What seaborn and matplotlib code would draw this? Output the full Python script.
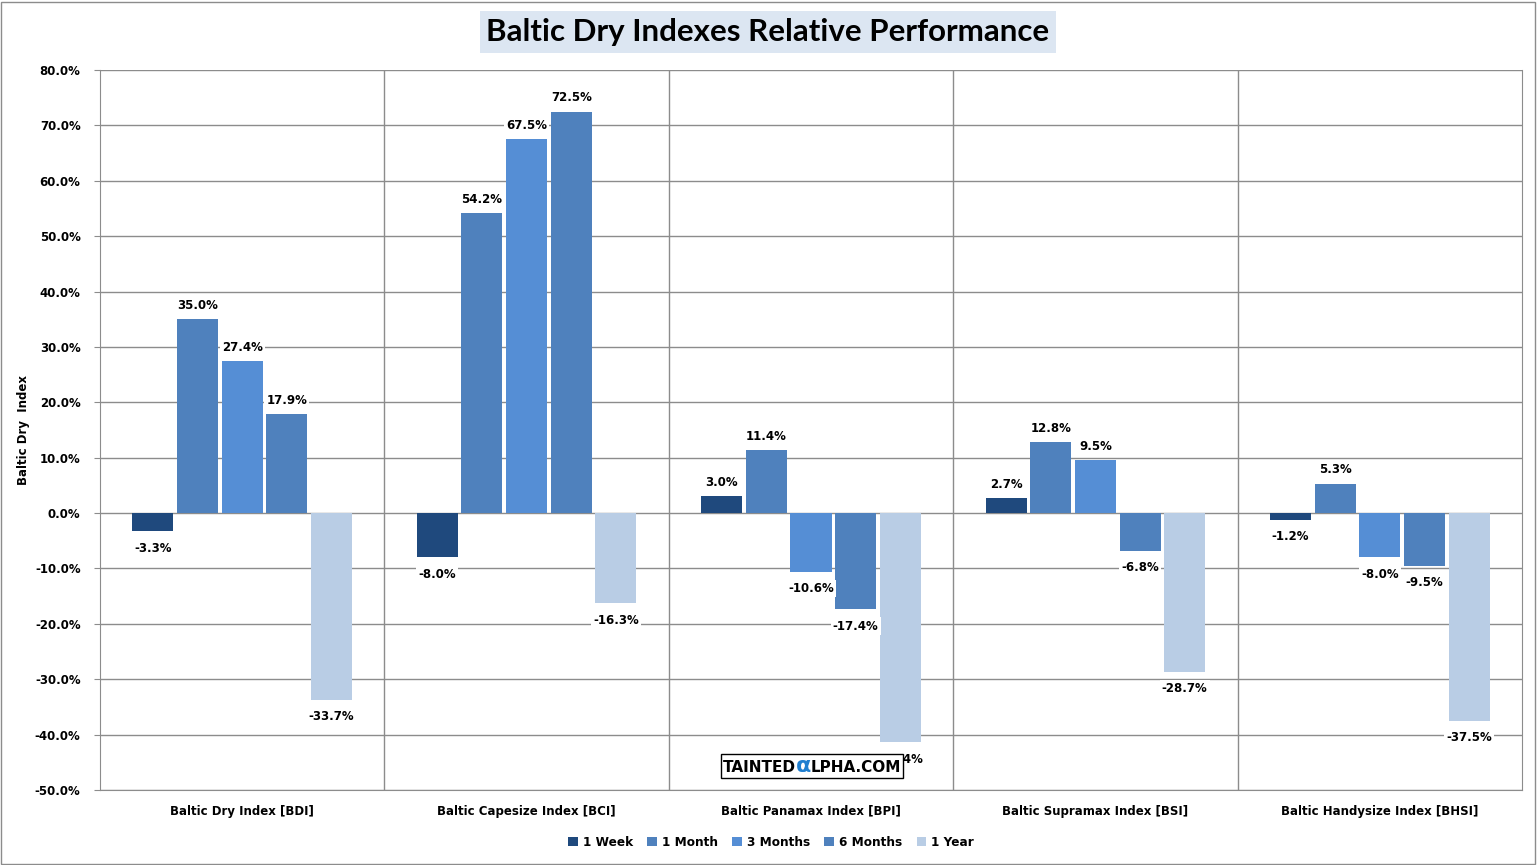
import pandas as pd
import matplotlib.pyplot as plt
import matplotlib.patches as mpatches
import seaborn as sns
from matplotlib.ticker import FuncFormatter, MultipleLocator, FixedLocator
from matplotlib.offsetbox import TextArea, HPacker, AnchoredOffsetbox

# ---------------------------------------------------------
# DATA (% change)
# ---------------------------------------------------------
indexes = ['Baltic Dry Index [BDI]', 'Baltic Capesize Index [BCI]', 'Baltic Panamax Index [BPI]',
           'Baltic Supramax Index [BSI]', 'Baltic Handysize Index [BHSI]']
periods = ['1 Week', '1 Month', '3 Months', '6 Months', '1 Year']

week_1 = [-3.3, -8.0, 3.0, 2.7, -1.2]
month_1 = [35.0, 54.2, 11.4, 12.8, 5.3]
months_3 = [27.4, 67.5, -10.6, 9.5, -8.0]
months_6 = [17.9, 72.5, -17.4, -6.8, -9.5]
year_1 = [-33.7, -16.3, -41.4, -28.7, -37.5]

colors = ['#1F497D', '#4F81BD', '#558ED5', '#4F81BD', '#B9CDE5']

series = [week_1, month_1, months_3, months_6, year_1]
rows = []
for p, vals in zip(periods, series):
    for idx, v in zip(indexes, vals):
        rows.append({'index': idx, 'period': p, 'value': v})
df = pd.DataFrame(rows)

# ---------------------------------------------------------
# PLOT
# ---------------------------------------------------------
sns.set_style("white")
plt.rcParams['font.family'] = ['DejaVu Sans']
plt.rcParams['text.color'] = 'black'
plt.rcParams['xtick.color'] = 'black'
plt.rcParams['ytick.color'] = 'black'
plt.rcParams['axes.labelcolor'] = 'black'

fig = plt.figure(figsize=(15.37, 8.65), dpi=100)
ax = fig.add_axes([100 / 1537, 1 - 790 / 865, 1422 / 1537, 720 / 865])

sns.barplot(data=df, x='index', y='value', hue='period', hue_order=periods,
            palette=colors, width=0.785, gap=0.08, saturation=1, linewidth=0,
            ax=ax, legend=True)

ax.set_ylim(-50, 80)
ax.set_xlim(-0.5, len(indexes) - 0.5)
ax.yaxis.set_major_locator(MultipleLocator(10))
ax.yaxis.set_major_formatter(FuncFormatter(lambda v, p: f'{v:.1f}%'))
ax.xaxis.set_minor_locator(FixedLocator([i + 0.5 for i in range(len(indexes) - 1)]))

ax.grid(axis='y', which='major', color='#8c8c8c', linewidth=1)
ax.grid(axis='x', which='minor', color='#8c8c8c', linewidth=1)
ax.set_axisbelow(True)
ax.spines['top'].set_visible(False)
for s in ['left', 'right', 'bottom']:
    ax.spines[s].set_visible(True)
    ax.spines[s].set_color('#8c8c8c')

ax.tick_params(axis='y', which='major', left=True, length=4, color='#8c8c8c',
               labelsize=8.5, pad=10, labelcolor='black')
ax.tick_params(axis='x', which='both', bottom=False, labelsize=8.5, pad=7, labelcolor='black')
for lab in ax.get_yticklabels() + ax.get_xticklabels():
    lab.set_fontweight('bold')

ax.set_xlabel('')
ax.set_ylabel('Baltic Dry  Index', fontsize=8.5, fontweight='bold', labelpad=0)
ax.yaxis.set_label_coords(-70 / 1422, 0.5)

# value labels with white boxes (a bit more room below negative bars)
for cont, vals in zip(ax.containers, series):
    for bar, v in zip(cont, vals):
        t = ax.annotate(f'{v:.1f}%', (bar.get_x() + bar.get_width() / 2, v),
                        xytext=(0, 10 if v >= 0 else -12), textcoords='offset points',
                        ha='center', va='center', fontsize=8.5, fontweight='bold', color='black')
        t.set_bbox(dict(facecolor='white', edgecolor='none', pad=1.5))

# legend at the bottom, centred on the figure
fig.legend(*ax.get_legend_handles_labels(), loc='center',
           bbox_to_anchor=(771 / 1537, 1 - 842 / 865), ncol=5, frameon=False,
           handlelength=0.8, handleheight=0.8, handletextpad=0.4, columnspacing=1.2,
           prop={'weight': 'bold', 'size': 8.7})
ax.get_legend().remove()

# title with light blue box
fig.text(768 / 1537, 1 - 32 / 865, 'Baltic Dry Indexes Relative Performance', ha='center', va='center',
         fontsize=22.5, fontweight='bold', family='Lato',
         bbox=dict(facecolor='#DCE6F2', edgecolor='none', pad=5))

# watermark (sits over the Panamax 1 Year label, as in the original)
parts = HPacker(children=[
    TextArea('TAINTED', textprops=dict(fontsize=11, fontweight='bold', color='black')),
    TextArea('α', textprops=dict(fontsize=16, fontweight='bold', color='#1F7FD0')),
    TextArea('LPHA.COM', textprops=dict(fontsize=11, fontweight='bold', color='black')),
], pad=0, sep=0, align='baseline')
wm = AnchoredOffsetbox(loc='center', child=parts, pad=0.15, frameon=True,
                       bbox_to_anchor=(812 / 1537, 1 - 766 / 865),
                       bbox_transform=fig.transFigure, borderpad=0)
wm.patch.set_edgecolor('black')
wm.patch.set_linewidth(1)
fig.add_artist(wm)

# figure border
fig.add_artist(mpatches.Rectangle((0.0005, 0.001), 0.998, 0.997, transform=fig.transFigure,
                                  fill=False, edgecolor='#8c8c8c', linewidth=1))

plt.savefig('out.png', dpi=100)
